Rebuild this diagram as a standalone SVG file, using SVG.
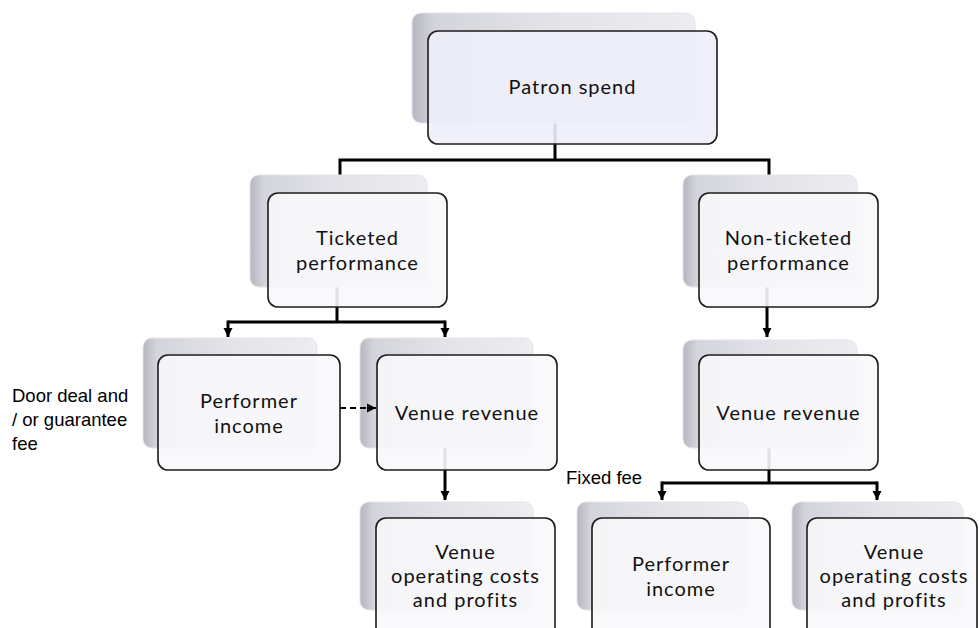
<svg xmlns="http://www.w3.org/2000/svg" width="979" height="628" viewBox="0 0 979 628">
<style>
.back{fill:url(#bk);stroke:#e4e4ea;stroke-width:1}
.front{fill:#f8f8fb;fill-opacity:0.9;stroke:#1c1c1c;stroke-width:1.6}
.frontp{fill:#eeeef9;fill-opacity:0.9;stroke:#1c1c1c;stroke-width:1.6}
.t{font-family:Lato,"Open Sans",sans-serif;font-size:20px;letter-spacing:1px;fill:#111;text-anchor:middle}
.lbl{font-family:"Liberation Sans",Arial,sans-serif;font-size:18.5px;fill:#000}
.c{fill:none;stroke:#000;stroke-width:3}
.d{fill:none;stroke:#000;stroke-width:2;stroke-dasharray:6 4}
</style>
<defs>
<linearGradient id="bk" x1="0" y1="0" x2="1" y2="0">
<stop offset="0" stop-color="#b6b6c0"/>
<stop offset="0.08" stop-color="#d4d4dc"/>
<stop offset="0.5" stop-color="#e3e3e9"/>
<stop offset="1" stop-color="#ececf1"/>
</linearGradient>
<marker id="ah" markerUnits="userSpaceOnUse" markerWidth="10" markerHeight="10" refX="9" refY="5" orient="auto">
<path d="M0,0.5 L9,5 L0,9.5 z" fill="#000"/>
</marker>
</defs>
<g id="connectors">
<path class="c" d="M555,123 V160 M340,160 H769 M340,158.5 V175 M769,158.5 V175"/>
<path class="c" d="M337,287 V322 M228,322 H445"/>
<path class="c" d="M228,320.5 V337" marker-end="url(#ah)"/>
<path class="c" d="M445,320.5 V337" marker-end="url(#ah)"/>
<path class="c" d="M445,448 V500" marker-end="url(#ah)"/>
<path class="c" d="M767,287 V337" marker-end="url(#ah)"/>
<path class="c" d="M769,448 V483 M662,483 H877"/>
<path class="c" d="M662,481.5 V500" marker-end="url(#ah)"/>
<path class="c" d="M877,481.5 V500" marker-end="url(#ah)"/>
</g>
<g id="patron-spend">
<rect class="back" x="412" y="13" width="283" height="110" rx="9"/>
<rect class="frontp" x="428" y="31" width="289" height="113" rx="10"/>
<text class="t" x="572.5" y="94">Patron spend</text>
</g>
<g id="ticketed">
<rect class="back" x="250" y="175" width="177" height="112" rx="9"/>
<rect class="front" x="268" y="193" width="179" height="114" rx="10"/>
<text class="t" x="357.5" y="245">Ticketed</text>
<text class="t" x="357.5" y="270">performance</text>
</g>
<g id="non-ticketed">
<rect class="back" x="683" y="175" width="174" height="112" rx="9"/>
<rect class="front" x="699" y="193" width="179" height="114" rx="10"/>
<text class="t" x="788.5" y="245">Non-ticketed</text>
<text class="t" x="788.5" y="270">performance</text>
</g>
<g id="performer-income-1">
<rect class="back" x="143" y="338" width="174" height="110" rx="9"/>
<rect class="front" x="158" y="355" width="182" height="115" rx="10"/>
<text class="t" x="249" y="408">Performer</text>
<text class="t" x="249" y="433">income</text>
</g>
<g id="venue-revenue-1">
<rect class="back" x="360" y="338" width="173" height="110" rx="9"/>
<rect class="front" x="377" y="355" width="180" height="115" rx="10"/>
<text class="t" x="467" y="420">Venue revenue</text>
</g>
<g id="venue-revenue-2">
<rect class="back" x="683" y="340" width="174" height="108" rx="9"/>
<rect class="front" x="699" y="355" width="179" height="115" rx="10"/>
<text class="t" x="788.5" y="420">Venue revenue</text>
</g>
<g id="venue-costs-1">
<rect class="back" x="360" y="502" width="173" height="108" rx="9"/>
<rect class="front" x="376" y="518" width="179" height="122" rx="10"/>
<text class="t" x="465.5" y="559">Venue</text>
<text class="t" x="465.5" y="583">operating costs</text>
<text class="t" x="465.5" y="607">and profits</text>
</g>
<g id="performer-income-2">
<rect class="back" x="577" y="502" width="171" height="108" rx="9"/>
<rect class="front" x="592" y="518" width="178" height="122" rx="10"/>
<text class="t" x="681" y="571">Performer</text>
<text class="t" x="681" y="596">income</text>
</g>
<g id="venue-costs-2">
<rect class="back" x="792" y="502" width="171" height="108" rx="9"/>
<rect class="front" x="807" y="518" width="170" height="122" rx="10"/>
<text class="t" x="894" y="559">Venue</text>
<text class="t" x="894" y="583">operating costs</text>
<text class="t" x="894" y="607">and profits</text>
</g>
<g id="connectors-dashed">
<path class="d" d="M340,408 H376" marker-end="url(#ah)"/>
</g>
<g id="labels">
<text class="lbl" x="12" y="402">Door deal and</text>
<text class="lbl" x="12" y="426">/ or guarantee</text>
<text class="lbl" x="12" y="450">fee</text>
<text class="lbl" x="566" y="484">Fixed fee</text>
</g>
</svg>
